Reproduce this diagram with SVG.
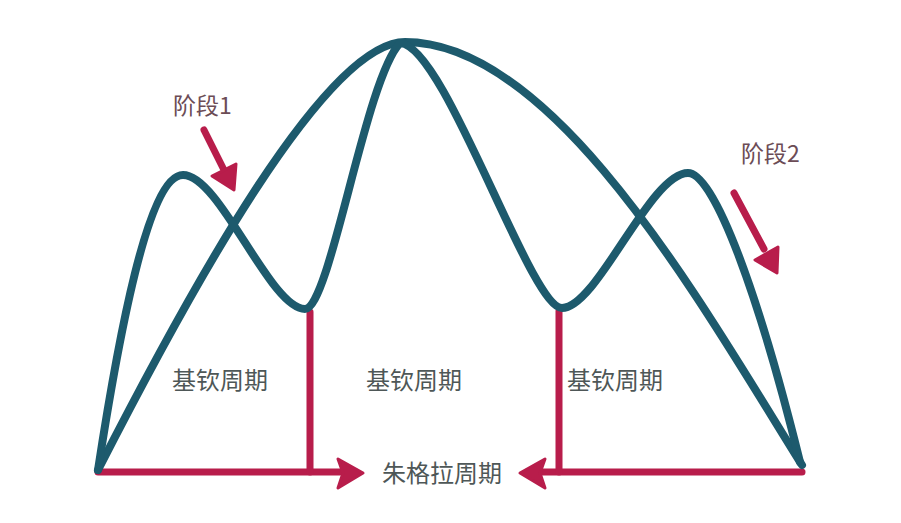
<svg xmlns="http://www.w3.org/2000/svg" width="901" height="523" viewBox="0 0 901 523">
<style>
.wave{fill:none;stroke:#1d5a6d;stroke-width:8;stroke-linecap:round;stroke-linejoin:round}
.red{fill:none;stroke:#b81d4b;stroke-width:7;stroke-linecap:round}
.head{fill:#b81d4b;stroke:#b81d4b;stroke-width:3;stroke-linejoin:round}
.lbl{font-family:"Noto Sans CJK SC","Noto Sans",sans-serif;font-size:24px;fill:#4e5757}
.stage{font-family:"Noto Sans CJK SC","Noto Sans",sans-serif;font-size:23px;fill:#6c4c56}
</style>
<rect width="901" height="523" fill="#ffffff"/>
<g id="connectors">
<path class="red" d="M98,472 H340"/>
<path class="head" d="M363,473 L338,459 L343,473 L338,488 Z"/>
<path class="red" d="M802,472 H542"/>
<path class="head" d="M520,473 L545,459 L540,473 L545,488 Z"/>
<path class="red" d="M310,312 V472"/>
<path class="red" d="M559,311 V472"/>
<path class="red" d="M204,130 L226,174"/>
<path class="head" d="M234,190 L236,164 L212,176 Z"/>
<path class="red" d="M734,193 L764,249"/>
<path class="head" d="M777,273 L778,247 L755,260 Z"/>
</g>
<g id="juglar">
<path class="wave" d="M98,470 C188,294 325,42 405,42 C555,42 702,305 802,465"/>
</g>
<g id="kitchin">
<path class="wave" d="M98,470 C118,340 148,175 183,175 C220,175 270,309 305,309 C330,309 365,80 400,43 C445,45 530,308 562,308 C597,308 650,173 688,173 C715,173 760,300 800,462"/>
</g>
<g id="label-stage1"><text class="stage" x="173" y="114">阶段1</text></g>
<g id="label-stage2"><text class="stage" x="741" y="162">阶段2</text></g>
<g id="label-kitchin1"><text class="lbl" x="220" y="389" text-anchor="middle">基钦周期</text></g>
<g id="label-kitchin2"><text class="lbl" x="414" y="389" text-anchor="middle">基钦周期</text></g>
<g id="label-kitchin3"><text class="lbl" x="615" y="389" text-anchor="middle">基钦周期</text></g>
<g id="label-juglar"><text class="lbl" x="382" y="482">朱格拉周期</text></g>
</svg>
